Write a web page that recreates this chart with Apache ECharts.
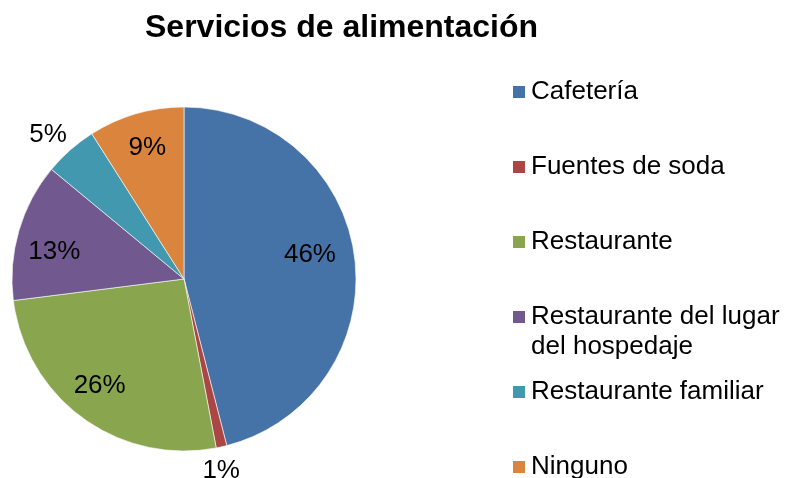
<!DOCTYPE html>
<html>
<head>
<meta charset="utf-8">
<script src="https://cdn.jsdelivr.net/npm/echarts@6/dist/echarts.min.js"></script>
<style>
  html, body { margin: 0; padding: 0; background: #fff; }
  #chart { width: 788px; height: 478px; }
</style>
</head>
<body>
<div id="chart"></div>
<script>
// Servicios de alimentación — share of respondents by food service type (%)
const categories = [
  'Cafetería',
  'Fuentes de soda',
  'Restaurante',
  'Restaurante del lugar\ndel hospedaje',
  'Restaurante familiar',
  'Ninguno'
];
const shares = [46, 1, 26, 13, 5, 9];
const sliceColors = ['#4572A7', '#AA4643', '#89A54E', '#71588F', '#4198AF', '#DB843D'];
// Small slices carry their label outside the pie
const labelOutside = [false, true, false, false, true, false];

const FONT = "'Liberation Sans', Arial, Helvetica, sans-serif";
const CX = 184, CY = 279, R = 172;

// Fine nudges for the percentage labels, per slice [dx, dy]
const labelNudge = [[-8, -7], [-6, -1], [-5, -2], [0, 10], [-5, 4], [1, -2]];

const chart = echarts.init(document.getElementById('chart'), null, { renderer: 'canvas' });

const pieData = categories.map((name, i) => ({
  name,
  value: shares[i],
  itemStyle: { color: sliceColors[i] }
}));

// Transparent companion rings used only to place the percentage labels
function labelRing(outer, wantOutside) {
  return {
    type: 'pie',
    silent: true,
    legendHoverLink: false,
    center: [CX, CY],
    radius: [0, outer],
    startAngle: 90,
    clockwise: true,
    avoidLabelOverlap: false,
    minShowLabelAngle: 0,
    itemStyle: { color: 'rgba(0,0,0,0)', borderWidth: 0 },
    emphasis: { disabled: true },
    labelLine: { show: false },
    data: categories.map((name, i) => ({
      name,
      value: shares[i],
      label: { show: labelOutside[i] === wantOutside }
    })),
    label: {
      position: 'inside',
      rotate: 0,
      formatter: p => p.value + '%',
      color: '#000',
      fontFamily: FONT,
      fontSize: 26
    },
    labelLayout: p => ({ dx: labelNudge[p.dataIndex][0], dy: labelNudge[p.dataIndex][1] }),
    z: 3
  };
}

// One legend block per entry, stacked down the right side
const legendTops = [77, 152, 227, 272, 377, 452];
const legends = categories.map((name, i) => ({
  orient: 'vertical',
  left: 511,
  top: legendTops[i],
  padding: 0,
  itemWidth: 14,
  itemHeight: 14,
  icon: 'rect',
  selectedMode: false,
  data: [name],
  // two-line entries keep their marker beside the first line
  formatter: n => (n.indexOf('\n') >= 0 ? ' \n' + n : n),
  textStyle: {
    fontFamily: FONT,
    fontSize: 26,
    color: '#000',
    lineHeight: 30
  }
}));

chart.setOption({
  animation: false,
  backgroundColor: '#fff',
  title: {
    text: 'Servicios de alimentación',
    left: 145,
    top: 12,
    padding: 0,
    textStyle: {
      fontFamily: FONT,
      fontWeight: 'bold',
      fontSize: 32,
      color: '#000'
    }
  },
  legend: legends,
  series: [
    {
      type: 'pie',
      center: [CX, CY],
      radius: [0, R],
      startAngle: 90,
      clockwise: true,
      data: pieData,
      label: { show: false },
      labelLine: { show: false },
      emphasis: { disabled: true },
      itemStyle: { borderColor: '#ffffff', borderWidth: 0.6 },
      z: 2
    },
    labelRing(264, false),
    labelRing(390, true)
  ]
});
</script>
</body>
</html>
